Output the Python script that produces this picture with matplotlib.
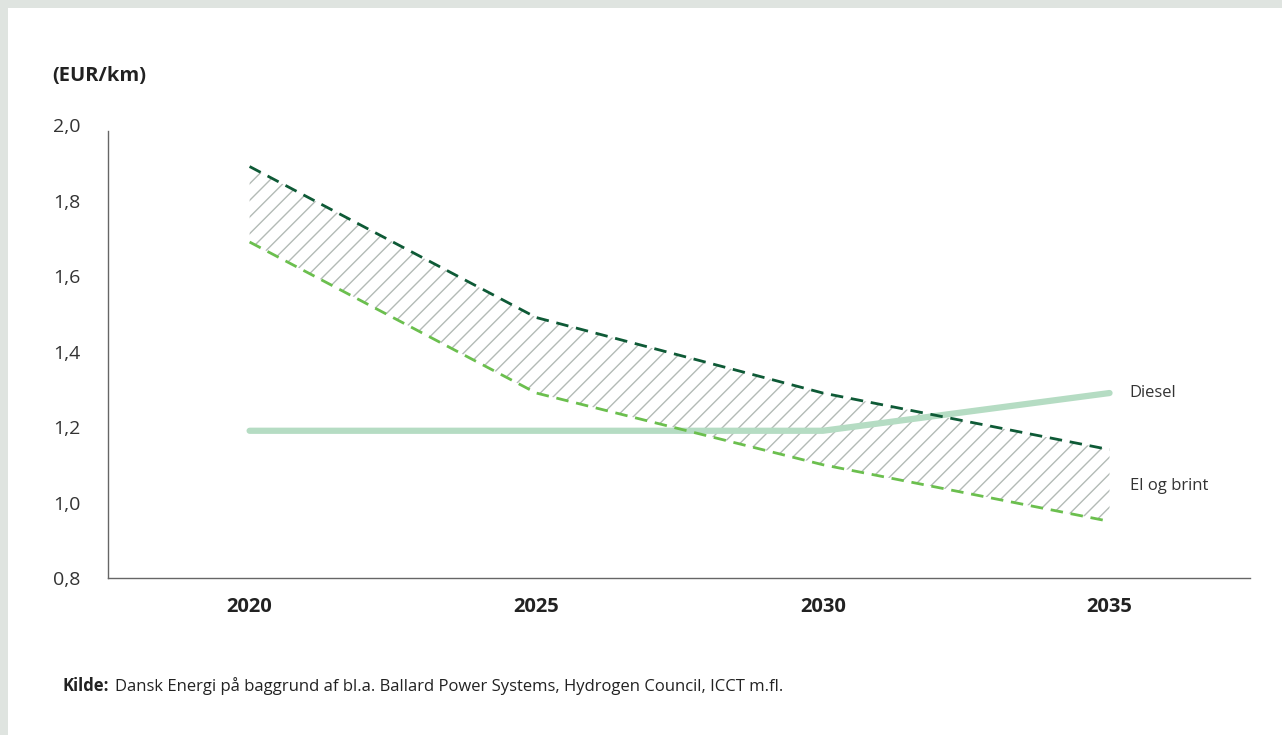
import matplotlib.pyplot as plt
from matplotlib.patches import Rectangle

years = [2020, 2025, 2030, 2035]
el_brint_high = [1.89, 1.49, 1.29, 1.14]
el_brint_low = [1.69, 1.29, 1.10, 0.95]
diesel = [1.19, 1.19, 1.19, 1.29]
yticks = [0.8, 1.0, 1.2, 1.4, 1.6, 1.8, 2.0]

plt.rcParams['font.family'] = ['Open Sans', 'DejaVu Sans']
plt.rcParams['hatch.color'] = '#b3bbb6'
plt.rcParams['hatch.linewidth'] = 1.0

fig = plt.figure(figsize=(12.82, 7.35), dpi=100)
fig.patch.set_facecolor('#dfe4e0')
# hvid ramme
fig.patches.append(Rectangle((8 / 1282, 0), 1, 1 - 8 / 735, transform=fig.transFigure,
                             facecolor='white', edgecolor='none', zorder=-5))

ax = fig.add_axes([108 / 1282, 1 - 578 / 735, (1250 - 108) / 1282, (578 - 125) / 735])
ax.set_facecolor('none')
ax.set_zorder(2)

ax.fill_between(years, el_brint_low, el_brint_high, facecolor='none', hatch='//',
                edgecolor='#b3bbb6', linewidth=0)
ax.plot(years, diesel, color='#b5dcc3', lw=4.5, solid_capstyle='round', zorder=3)
ax.plot(years, el_brint_high, color='#0e5a36', lw=2, dashes=(4.5, 2.8), zorder=4)
ax.plot(years, el_brint_low, color='#6bbf4e', lw=2, dashes=(4.5, 2.8), zorder=4)

ax.text(2035.35, diesel[-1], 'Diesel', fontsize=12, color='#333333', va='center')
ax.text(2035.35, 1.045, 'El og brint', fontsize=12, color='#333333', va='center')

ax.set_xlim(2017.53, 2037.45)
ax.set_ylim(0.8, 2.0)
ax.set_xticks(years)
ax.set_xticklabels([str(y) for y in years], fontsize=14.5, fontweight='bold', color='#222222')
ax.set_yticks(yticks)
ax.set_yticklabels([f'{v:.1f}'.replace('.', ',') for v in yticks], fontsize=14, color='#333333')
ax.tick_params(axis='both', length=0)
ax.tick_params(axis='x', pad=14)
ax.tick_params(axis='y', pad=20)

for s in ['top', 'right']:
    ax.spines[s].set_visible(False)
for s in ['left', 'bottom']:
    ax.spines[s].set_color('#666666')
    ax.spines[s].set_linewidth(1)
ax.spines['left'].set_bounds(0.8, 1.985)

fig.text(52 / 1282, 1 - 76 / 735, '(EUR/km)', fontsize=14.5, fontweight='bold',
         color='#222222', va='center')
fig.text(62 / 1282, 1 - 686 / 735, 'Kilde:', fontsize=12, fontweight='bold',
         color='#222222', va='center')
fig.text(115 / 1282, 1 - 686 / 735,
         'Dansk Energi på baggrund af bl.a. Ballard Power Systems, Hydrogen Council, ICCT m.fl.',
         fontsize=12, color='#222222', va='center')

fig.savefig('out.png', dpi=100, facecolor=fig.get_facecolor())
